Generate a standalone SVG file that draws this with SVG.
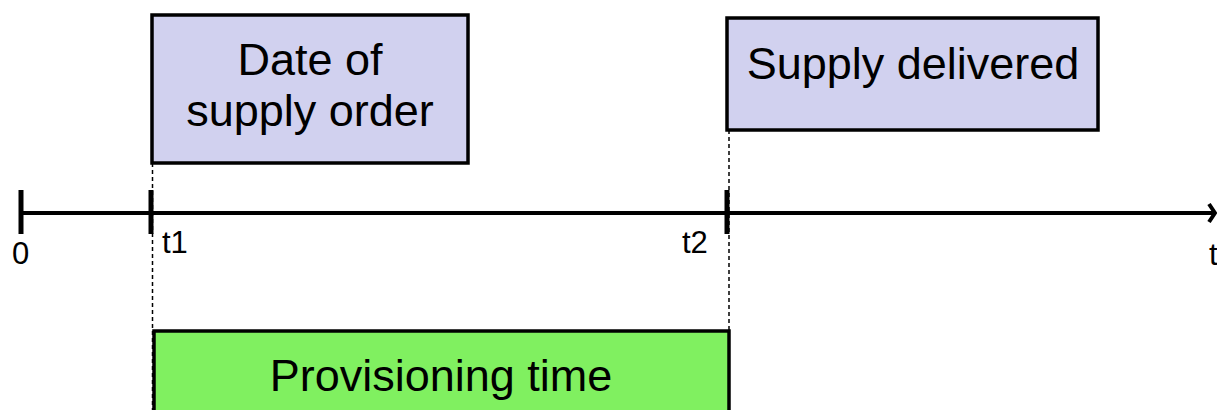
<svg xmlns="http://www.w3.org/2000/svg" width="1217" height="410" viewBox="0 0 1217 410">
<style>
.box{fill:#D1D1EF;stroke:#000;stroke-width:3.5}
.green{fill:#80F060;stroke:#000;stroke-width:3.5}
.lbl{font-family:"Liberation Sans",Arial,sans-serif;font-size:45px;fill:#000;text-anchor:middle}
.tick{font-family:"Liberation Sans",Arial,sans-serif;font-size:31px;fill:#000}
.dash{stroke:#000;stroke-width:1.5;stroke-dasharray:4,3;fill:none}
.axis{stroke:#000;stroke-width:4;fill:none}
.tk{stroke:#000;stroke-width:5;fill:none}
</style>
<rect width="1217" height="410" fill="#fff"/>
<g id="connectors">
<line class="dash" x1="152.5" y1="163" x2="152.5" y2="410"/>
<line class="dash" x1="729" y1="18" x2="729" y2="410"/>
<line class="axis" x1="20" y1="213" x2="1214" y2="213"/>
<polyline class="axis" points="1209,204 1215,213 1209,222" stroke-linejoin="miter"/>
<line class="tk" x1="21" y1="190" x2="21" y2="234"/>
<line class="tk" x1="151" y1="190" x2="151" y2="234"/>
<line class="tk" x1="727" y1="190" x2="727" y2="234"/>
</g>
<g id="axis-labels">
<text class="tick" x="12" y="264">0</text>
<text class="tick" x="162" y="253">t1</text>
<text class="tick" x="682" y="253">t2</text>
<text class="tick" x="1209" y="265">t</text>
</g>
<g id="node-order">
<rect class="box" x="152" y="15" width="316" height="148"/>
<text class="lbl" x="310" y="75">Date of</text>
<text class="lbl" x="310" y="126">supply order</text>
</g>
<g id="node-delivered">
<rect class="box" x="727" y="18" width="371" height="112"/>
<text class="lbl" x="913" y="79">Supply delivered</text>
</g>
<g id="node-provisioning">
<rect class="green" x="154" y="331" width="575" height="100"/>
<text class="lbl" x="441" y="391">Provisioning time</text>
</g>
</svg>
